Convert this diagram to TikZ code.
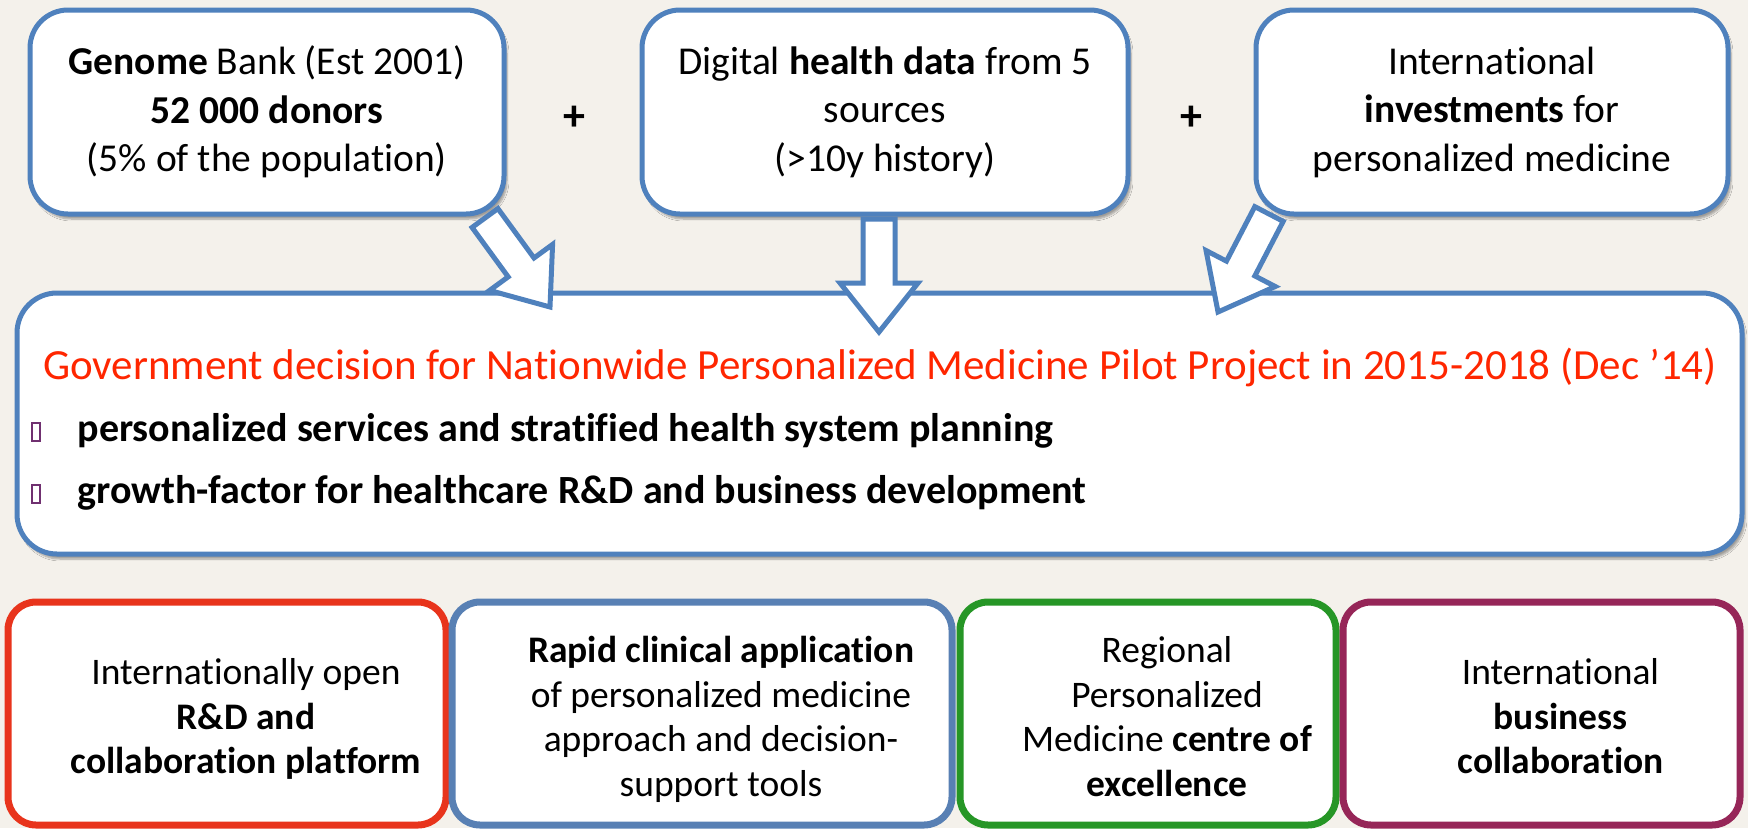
\documentclass[tikz,border=0pt]{standalone}
\usepackage{fontspec}
\setmainfont{Carlito}[Ligatures=NoCommon]
\usepackage{xcolor}
\usetikzlibrary{shadows.blur}

\definecolor{paper}{RGB}{244,241,235}
\definecolor{boxblue}{RGB}{79,129,189}
\definecolor{titlered}{RGB}{255,38,0}
\definecolor{bulletpurple}{RGB}{112,48,112}
\definecolor{platred}{RGB}{232,52,28}
\definecolor{platblue}{RGB}{88,128,180}
\definecolor{platgreen}{RGB}{38,150,38}
\definecolor{platwine}{RGB}{150,38,88}

\tikzset{
  softshadow/.style={blur shadow={shadow xshift=3pt, shadow yshift=-5pt, shadow blur steps=6, shadow opacity=35}},
  topbox/.style={draw=boxblue, line width=5pt, fill=white, rounded corners=38pt, align=center, inner sep=0pt,
    minimum height=204pt, font=\fontsize{39.5}{48.5}\selectfont, softshadow},
  mainbox/.style={draw=boxblue, line width=5pt, fill=white, rounded corners=40pt, inner sep=0pt,
    minimum width=1725pt, minimum height=261pt, softshadow},
  botbox/.style={draw=#1, line width=7pt, fill=white, rounded corners=28pt, inner sep=0pt,
    minimum height=223pt, font=\fontsize{37.5}{44.5}\selectfont},
  fatline/.style={draw=boxblue, line width=5pt, fill=white, line join=miter},
  bullettext/.style={anchor=west, font=\fontsize{40}{46}\selectfont\bfseries},
  bulletmark/.style={draw=bulletpurple, line width=1.3pt, minimum width=8pt, minimum height=18pt, inner sep=0pt},
  plussign/.style={font=\fontsize{44}{50}\selectfont\bfseries},
}

% 粗箭头: 尾 (x,y), 头 (x,y)
\newcommand{\fatarrow}[4]{%
  \pgfmathsetmacro{\arrang}{atan2(-(#4-#2),#3-#1)}%
  \pgfmathsetmacro{\arrlen}{veclen(#3-#1,#4-#2)}%
  \begin{scope}[shift={(#1,#2)}, rotate=\arrang]
    \draw[fatline] (0,-16) -- (\arrlen-49,-16) -- (\arrlen-49,-39) -- (\arrlen,0)
      -- (\arrlen-49,39) -- (\arrlen-49,16) -- (0,16) -- cycle;
  \end{scope}}
% 下面框的文字稍微偏右偏下
\newcommand{\platlines}[1]{\hspace*{38pt}\raisebox{-7pt}[\height][\depth]{\begin{tabular}{@{}c@{}}#1\end{tabular}}}

\begin{document}
\begin{tikzpicture}[x=1pt, y=-1pt]
  % 背景
  \fill[paper] (0,0) rectangle (1748,828);
  \useasboundingbox (0,0) rectangle (1748,828);

  % 上面三个框
  \node[topbox, minimum width=474pt] (genome) at (267,112)
    {\textbf{Genome} Bank (Est 2001)\\\textbf{52 000 donors}\\(5\% of the population)};
  \node[topbox, minimum width=486pt] (healthdata) at (885,112)
    {Digital \textbf{health data} from 5\\sources\\(>10y history)};
  \node[topbox, minimum width=472pt] (invest) at (1492,112)
    {International\\\textbf{investments} for\\personalized medicine};

  % 加号
  \node[plussign] (plusA) at (574,118) {+};
  \node[plussign] (plusB) at (1191,118) {+};

  % 政府决定的大框
  \node[mainbox] (decision) at (879.5,423.5) {};
  \node[anchor=base, text=titlered, font=\fontsize{43}{50}\selectfont] (title) at (880,379)
    {Government decision for Nationwide Personalized Medicine Pilot Project in 2015-2018 (Dec ’14)};

  % 两个要点
  \node[bulletmark] (markA) at (36,432) {};
  \node[bulletmark] (markB) at (36,494) {};
  \node[bullettext] (pointA) at (74,431) {personalized services and stratified health system planning};
  \node[bullettext] (pointB) at (74,493) {growth-factor for healthcare R\&D and business development};

  % 三个箭头
  \fatarrow{485}{218}{550}{307}
  \fatarrow{879}{219}{879}{332}
  \fatarrow{1269}{214}{1218}{312}

  % 下面四个框
  \node[botbox=platred, minimum width=438pt] (platform) at (227,713.5)
    {\platlines{Internationally open\\\textbf{R\&D and}\\\textbf{collaboration platform}}};
  \node[botbox=platblue, minimum width=500pt] (clinical) at (702,713.5)
    {\platlines{\textbf{Rapid clinical application}\\of personalized medicine\\approach and decision-\\support tools}};
  \node[botbox=platgreen, minimum width=376pt] (centre) at (1148,713.5)
    {\platlines{Regional\\Personalized\\Medicine \textbf{centre of}\\\textbf{excellence}}};
  \node[botbox=platwine, minimum width=397pt] (business) at (1541.5,713.5)
    {\platlines{International\\\textbf{business}\\\textbf{collaboration}}};
\end{tikzpicture}
\end{document}
